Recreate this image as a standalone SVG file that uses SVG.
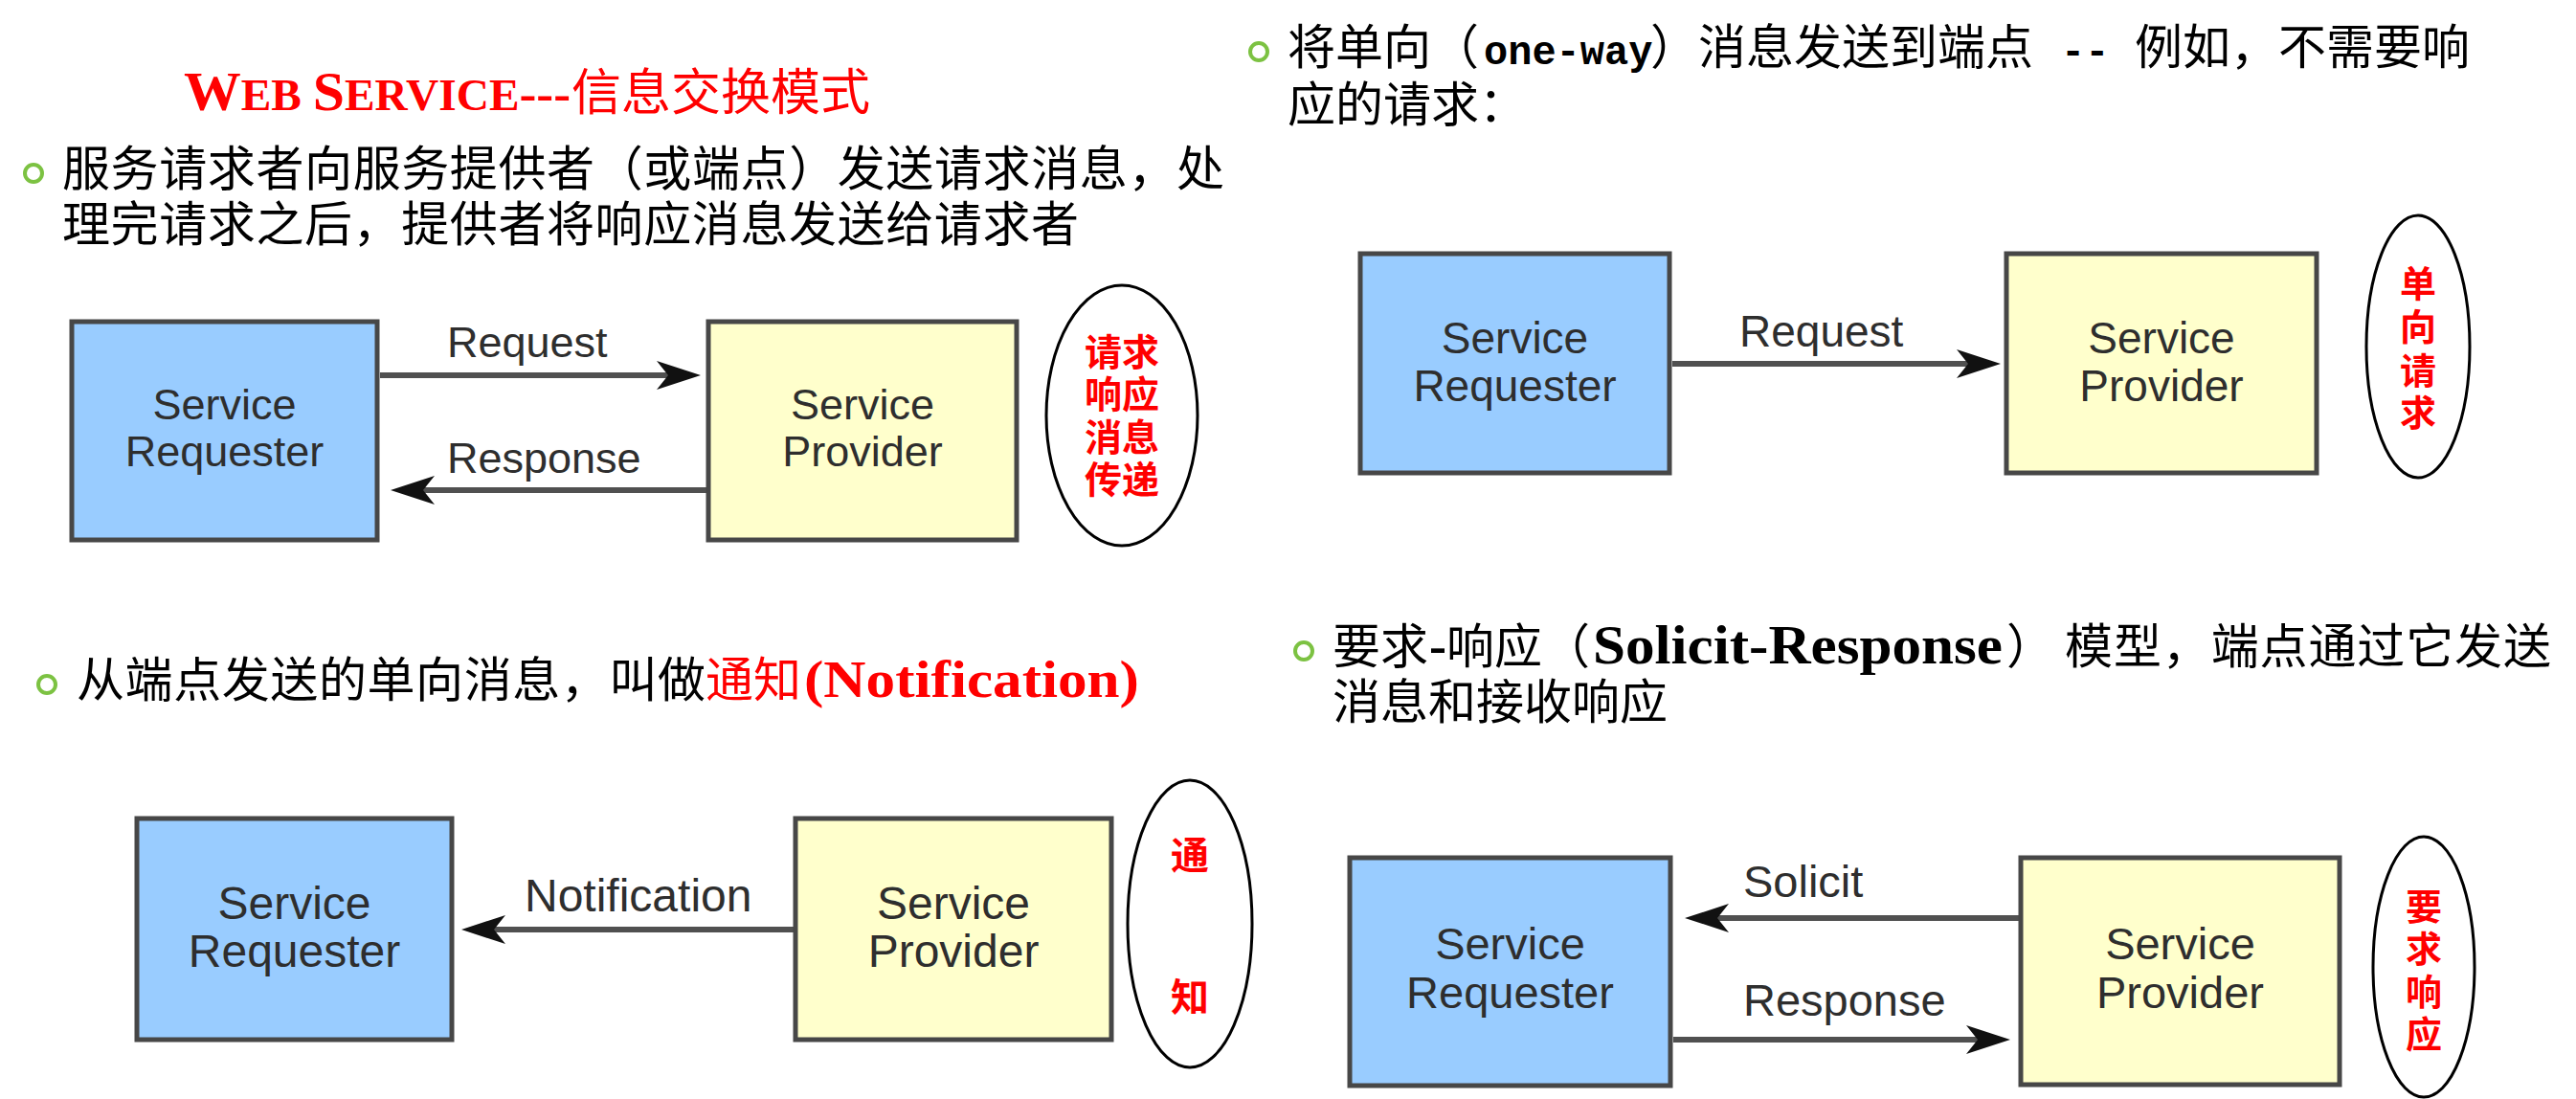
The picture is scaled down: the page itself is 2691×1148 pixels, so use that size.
<svg xmlns="http://www.w3.org/2000/svg" width="2691" height="1148" viewBox="0 0 2691 1148">
<style>
.cjk{font-family:"Noto Sans CJK SC","Liberation Sans",sans-serif;}
.body{font-size:50px;fill:#000;}
.red{fill:#ff0000;}
.ser{font-family:"Liberation Serif","Noto Sans CJK SC",serif;font-weight:bold;}
.mono{font-family:"Liberation Mono",monospace;font-weight:bold;font-size:42px;fill:#000;}
.bullet{fill:none;stroke:#7cc242;stroke-width:4;}
.req{fill:#99ccff;stroke:#474747;stroke-width:5;}
.prov{fill:#ffffcc;stroke:#474747;stroke-width:5;}
.blab{font-family:"Liberation Sans",Arial,sans-serif;fill:#2e2e2e;text-anchor:middle;}
.alab{font-family:"Liberation Sans",Arial,sans-serif;fill:#2e2e2e;}
.conn{stroke:#505050;stroke-width:6;fill:none;marker-end:url(#arr);}
.ell{fill:none;stroke:#000;stroke-width:3;}
.etext{font-family:"Noto Sans CJK SC",sans-serif;font-weight:bold;fill:#ff0000;text-anchor:middle;}
</style>
<defs>
<marker id="arr" viewBox="0 0 46 30" refX="14" refY="15" markerWidth="46" markerHeight="30" markerUnits="userSpaceOnUse" orient="auto">
<path d="M0,0 L46,15 L0,30 L12,15 Z" fill="#111"/>
</marker>
</defs>
<rect width="2691" height="1148" fill="#ffffff"/>

<!-- Top-left heading and bullet text -->
<g id="title">
<text x="192" y="115" class="ser red" textLength="404" lengthAdjust="spacingAndGlyphs"><tspan font-size="58">W</tspan><tspan font-size="46">EB </tspan><tspan font-size="58">S</tspan><tspan font-size="46">ERVICE</tspan><tspan font-size="52">---</tspan></text>
<text x="597" y="115" class="cjk red" font-size="52">信息交换模式</text>
</g>
<g id="text-tl">
<circle class="bullet" cx="35" cy="181" r="9"/>
<text x="65" y="194" class="cjk body" textLength="1214" lengthAdjust="spacing">服务请求者向服务提供者（或端点）发送请求消息，处</text>
<text x="65" y="252" class="cjk body" textLength="1062" lengthAdjust="spacing">理完请求之后，提供者将响应消息发送给请求者</text>
</g>

<!-- Top-right text -->
<g id="text-tr">
<circle class="bullet" cx="1315" cy="54" r="9"/>
<text x="1345" y="67" class="cjk body">将单向（</text>
<text x="1550" y="67" class="mono">one-way</text>
<text x="1724" y="67" class="cjk body">）消息发送到端点</text>
<text x="2153" y="67" class="mono">--</text>
<text x="2230" y="67" class="cjk body">例如，不需要响</text>
<text x="1345" y="127" class="cjk body">应的请求：</text>
</g>

<!-- Bottom-left text -->
<g id="text-bl">
<circle class="bullet" cx="49" cy="715" r="9"/>
<text x="80" y="728" class="cjk body" textLength="657" lengthAdjust="spacing">从端点发送的单向消息，叫做</text>
<text x="737" y="728" class="cjk body red">通知</text>
<text x="840" y="728" class="ser red" font-size="54" textLength="350" lengthAdjust="spacingAndGlyphs">(Notification)</text>
</g>

<!-- Bottom-right text -->
<g id="text-br">
<circle class="bullet" cx="1362" cy="680" r="9"/>
<text x="1392" y="693" class="cjk body">要求</text>
<text x="1493" y="693" class="ser" font-size="54" fill="#000">-</text>
<text x="1511" y="693" class="cjk body">响应（</text>
<text x="1664" y="693" class="ser" font-size="56" fill="#000" textLength="428" lengthAdjust="spacingAndGlyphs">Solicit-Response</text>
<text x="2096" y="693" class="cjk body">）</text>
<text x="2157" y="693" class="cjk body" textLength="508" lengthAdjust="spacing">模型，端点通过它发送</text>
<text x="1392" y="751" class="cjk body">消息和接收响应</text>
</g>

<!-- Connectors -->
<g id="connectors">
<line class="conn" x1="397" y1="392" x2="700" y2="392"/>
<line class="conn" x1="738" y1="512" x2="440" y2="512"/>
<line class="conn" x1="1747" y1="380" x2="2058" y2="380"/>
<line class="conn" x1="829" y1="971" x2="514" y2="971"/>
<line class="conn" x1="2109" y1="959" x2="1792" y2="959"/>
<line class="conn" x1="1748" y1="1086" x2="2068" y2="1086"/>
</g>

<!-- Connector labels -->
<g id="connector-labels">
<text x="467" y="373" class="alab" font-size="45">Request</text>
<text x="467" y="494" class="alab" font-size="45">Response</text>
<text x="1817" y="362" class="alab" font-size="46">Request</text>
<text x="548" y="952" class="alab" font-size="48">Notification</text>
<text x="1821" y="937" class="alab" font-size="47">Solicit</text>
<text x="1821" y="1061" class="alab" font-size="47">Response</text>
</g>

<!-- Diagram A: request-response -->
<g id="a-requester">
<rect class="req" x="75" y="336" width="319" height="228"/>
<text class="blab" font-size="45"><tspan x="234.5" y="438">Service</tspan><tspan x="234.5" y="487">Requester</tspan></text>
</g>
<g id="a-provider">
<rect class="prov" x="740" y="336" width="322" height="228"/>
<text class="blab" font-size="45"><tspan x="901" y="438">Service</tspan><tspan x="901" y="487">Provider</tspan></text>
</g>
<g id="a-note">
<ellipse class="ell" cx="1172" cy="434" rx="79" ry="136"/>
<text class="etext" font-size="39"><tspan x="1172" y="382">请求</tspan><tspan x="1172" y="426">响应</tspan><tspan x="1172" y="471">消息</tspan><tspan x="1172" y="515">传递</tspan></text>
</g>

<!-- Diagram B: one-way -->
<g id="b-requester">
<rect class="req" x="1421" y="265" width="323" height="229"/>
<text class="blab" font-size="46"><tspan x="1582.5" y="369">Service</tspan><tspan x="1582.5" y="419">Requester</tspan></text>
</g>
<g id="b-provider">
<rect class="prov" x="2096" y="265" width="324" height="229"/>
<text class="blab" font-size="46"><tspan x="2258" y="369">Service</tspan><tspan x="2258" y="419">Provider</tspan></text>
</g>
<g id="b-note">
<ellipse class="ell" cx="2526" cy="362" rx="54" ry="137"/>
<text class="etext" font-size="38"><tspan x="2526" y="310">单</tspan><tspan x="2526" y="355">向</tspan><tspan x="2526" y="401">请</tspan><tspan x="2526" y="445">求</tspan></text>
</g>

<!-- Diagram C: notification -->
<g id="c-requester">
<rect class="req" x="143" y="855" width="329" height="231"/>
<text class="blab" font-size="48"><tspan x="307.5" y="960">Service</tspan><tspan x="307.5" y="1010">Requester</tspan></text>
</g>
<g id="c-provider">
<rect class="prov" x="831" y="855" width="330" height="231"/>
<text class="blab" font-size="48"><tspan x="996" y="960">Service</tspan><tspan x="996" y="1010">Provider</tspan></text>
</g>
<g id="c-note">
<ellipse class="ell" cx="1243" cy="965" rx="65" ry="150"/>
<text class="etext" font-size="40"><tspan x="1243" y="908">通</tspan><tspan x="1243" y="1056">知</tspan></text>
</g>

<!-- Diagram D: solicit-response -->
<g id="d-requester">
<rect class="req" x="1410" y="896" width="335" height="238"/>
<text class="blab" font-size="47"><tspan x="1577.5" y="1002">Service</tspan><tspan x="1577.5" y="1053">Requester</tspan></text>
</g>
<g id="d-provider">
<rect class="prov" x="2111" y="896" width="333" height="237"/>
<text class="blab" font-size="47"><tspan x="2277.5" y="1002">Service</tspan><tspan x="2277.5" y="1053">Provider</tspan></text>
</g>
<g id="d-note">
<ellipse class="ell" cx="2532" cy="1010" rx="53" ry="136"/>
<text class="etext" font-size="38"><tspan x="2532" y="961">要</tspan><tspan x="2532" y="1005">求</tspan><tspan x="2532" y="1050">响</tspan><tspan x="2532" y="1094">应</tspan></text>
</g>
</svg>
